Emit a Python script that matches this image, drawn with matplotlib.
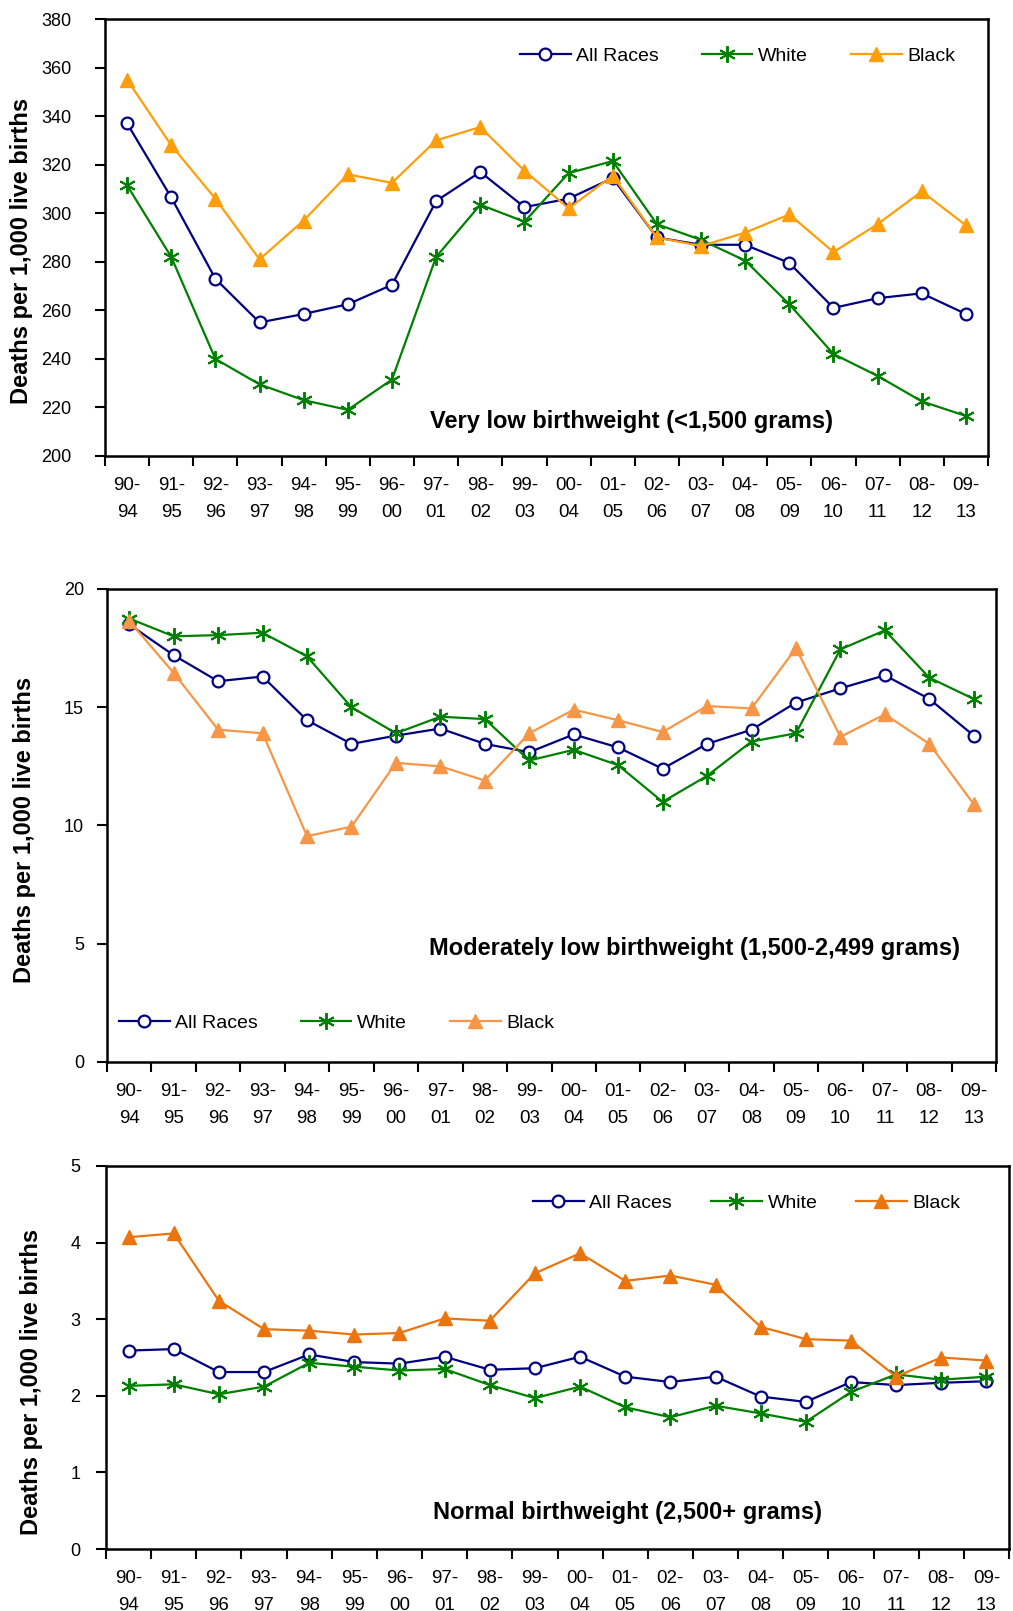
import matplotlib
matplotlib.use("Agg")
import matplotlib.pyplot as plt

plt.rcParams['font.family'] = ['Liberation Sans', 'DejaVu Sans']

periods = ["90-\n94", "91-\n95", "92-\n96", "93-\n97", "94-\n98", "95-\n99", "96-\n00",
           "97-\n01", "98-\n02", "99-\n03", "00-\n04", "01-\n05", "02-\n06", "03-\n07",
           "04-\n08", "05-\n09", "06-\n10", "07-\n11", "08-\n12", "09-\n13"]
series_names = ["All Races", "White", "Black"]

# Very low birthweight (<1,500 grams)
vlbw_all = [337, 306.5, 273, 255, 258.5, 262.5, 270.5, 305, 317, 302.5, 306, 314.5, 290, 287, 287, 279.5, 261, 265, 267, 258.5]
vlbw_white = [311.5, 282, 240, 229.5, 223, 219, 231.5, 282, 303.5, 296.5, 316.5, 321.5, 295.5, 289, 280.5, 262.5, 242, 233, 222.5, 216.5]
vlbw_black = [355, 328, 306, 281, 297, 316, 312.5, 330, 335.5, 317.5, 302, 315.5, 290, 286.5, 292, 299.5, 284, 295.5, 309, 295]

# Moderately low birthweight (1,500-2,499 grams)
mlbw_all = [18.5, 17.2, 16.1, 16.3, 14.45, 13.45, 13.8, 14.1, 13.45, 13.1, 13.85, 13.3, 12.4, 13.45, 14.05, 15.2, 15.8, 16.35, 15.35, 13.8]
mlbw_white = [18.75, 18.0, 18.05, 18.15, 17.15, 15.0, 13.9, 14.6, 14.5, 12.75, 13.2, 12.55, 11.0, 12.1, 13.55, 13.9, 17.45, 18.25, 16.25, 15.35]
mlbw_black = [18.65, 16.45, 14.05, 13.9, 9.55, 9.95, 12.65, 12.5, 11.9, 13.9, 14.9, 14.45, 13.95, 15.05, 14.95, 17.5, 13.75, 14.7, 13.45, 10.9]

# Normal birthweight (2,500+ grams)
nbw_all = [2.59, 2.61, 2.31, 2.31, 2.54, 2.44, 2.42, 2.51, 2.34, 2.36, 2.51, 2.25, 2.18, 2.25, 1.99, 1.92, 2.18, 2.14, 2.17, 2.19]
nbw_white = [2.13, 2.15, 2.02, 2.12, 2.43, 2.38, 2.33, 2.35, 2.14, 1.97, 2.12, 1.85, 1.72, 1.87, 1.77, 1.66, 2.05, 2.28, 2.21, 2.25]
nbw_black = [4.07, 4.12, 3.24, 2.87, 2.85, 2.80, 2.82, 3.01, 2.98, 3.60, 3.86, 3.50, 3.57, 3.45, 2.90, 2.74, 2.72, 2.25, 2.50, 2.46]

titles = ["Very low birthweight (<1,500 grams)",
          "Moderately low birthweight (1,500-2,499 grams)",
          "Normal birthweight (2,500+ grams)"]

W, H = 1013, 1611
fig = plt.figure(figsize=(W / 100, H / 100), dpi=100)

def px_axes(l, r, t, b):
    return fig.add_axes([l / W, 1 - b / H, (r - l) / W, (b - t) / H])

panels = [
    dict(box=(105, 988, 19, 456), data=(vlbw_all, vlbw_white, vlbw_black), ylim=(200, 380),
         yticks=list(range(200, 381, 20)), black_color="#FF9E0B", ypad=17,
         ylab_x=21, ylab_yf=0.469, title_pos=(0.596, 0.080), legend_pos=(520, 56), colsp=2.2),
    dict(box=(107, 996, 589, 1062), data=(mlbw_all, mlbw_white, mlbw_black), ylim=(0, 20),
         yticks=[0, 5, 10, 15, 20], black_color="#F79646", ypad=9.5,
         ylab_x=25, ylab_yf=0.49, title_pos=(0.661, 0.24), legend_pos=(119, 1023), colsp=2.2),
    dict(box=(106, 1009, 1166, 1549), data=(nbw_all, nbw_white, nbw_black), ylim=(0, 5),
         yticks=[0, 1, 2, 3, 4, 5], black_color="#EA750F", ypad=11.5,
         ylab_x=32, ylab_yf=0.436, title_pos=(0.578, 0.094), legend_pos=(533, 1203), colsp=2.0),
]

x = list(range(len(periods)))
for i, p in enumerate(panels):
    l, r, t, b = p["box"]
    ax = px_axes(l, r, t, b)
    a_vals, w_vals, b_vals = p["data"]
    ax.plot(x, a_vals, color="#000080", lw=1.6, marker="o", ms=8.5,
            mfc="white", mec="#000080", mew=1.6, label=series_names[0], zorder=3)
    ax.plot(x, w_vals, color="#008000", lw=1.6, marker=(6, 2, 0), ms=12,
            mec="#008000", mew=1.4, label=series_names[1], zorder=4)
    ax.plot(x, b_vals, color=p["black_color"], lw=1.6, marker="^", ms=10,
            mfc=p["black_color"], mec=p["black_color"], label=series_names[2], zorder=5)

    ax.set_xlim(-0.5, len(periods) - 0.5)
    ax.set_ylim(*p["ylim"])
    ax.set_yticks(p["yticks"])
    ax.set_xticks([k - 0.5 for k in range(len(periods) + 1)])
    ax.set_xticklabels([])
    ax.set_xticks(x, minor=True)
    ax.set_xticklabels(periods, minor=True, fontsize=13.5, linespacing=1.75)
    ax.tick_params(axis="x", which="major", direction="out", length=7, width=1.5)
    ax.tick_params(axis="x", which="minor", length=0, pad=15)
    ax.tick_params(axis="y", direction="out", length=7, width=1.5, labelsize=13, pad=p["ypad"])
    for s in ax.spines.values():
        s.set_linewidth(1.8)
        s.set_color("black")

    ax.set_ylabel("Deaths per 1,000 live births", fontsize=17, fontweight="bold", va="center")
    ax.yaxis.set_label_coords((p["ylab_x"] - l) / (r - l), p["ylab_yf"])

    ax.text(p["title_pos"][0], p["title_pos"][1], titles[i], transform=ax.transAxes,
            ha="center", va="center", fontsize=17, fontweight="bold")

    lx, ly = p["legend_pos"]
    ax.legend(loc="center left", bbox_to_anchor=(lx / W, 1 - ly / H),
              bbox_transform=fig.transFigure, ncol=3, frameon=False,
              fontsize=14, handlelength=2.6, handletextpad=0.3, columnspacing=p["colsp"],
              borderpad=0, borderaxespad=0)

fig.savefig("out.png", dpi=100)
